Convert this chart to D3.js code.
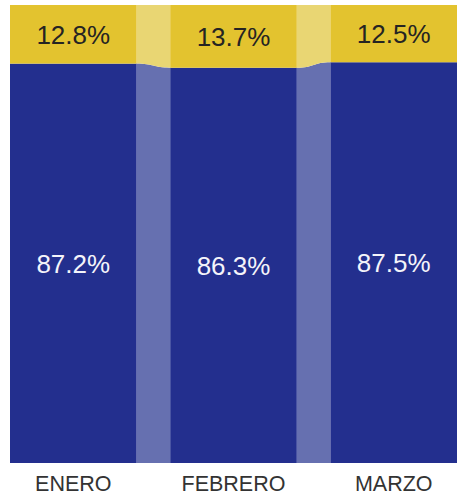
<!DOCTYPE html>
<html>
<head>
<meta charset="utf-8">
<script src="https://cdn.jsdelivr.net/npm/d3@7"></script>
<style>
  body { margin: 0; background: #fff; }
  text { font-family: "Liberation Sans", Arial, sans-serif; }
</style>
</head>
<body>
<script>
const months = ["ENERO", "FEBRERO", "MARZO"];
const bottomShare = [87.2, 86.3, 87.5];
const topShare = [12.8, 13.7, 12.5];
const seriesKeys = ["bottom", "top"];

const width = 475, height = 500;
const barColor = {bottom: "#232f8e", top: "#e3c32f"};
const ribbonColor = {bottom: "#6670b0", top: "#e9d673"};
const labelColor = {bottom: "#f4f4fa", top: "#252423"};

const rows = months.map((m, i) => ({month: m, bottom: bottomShare[i], top: topShare[i]}));
const series = d3.stack().keys(seriesKeys)(rows);

const svg = d3.select("body").append("svg")
    .attr("width", width)
    .attr("height", height);

const x = d3.scaleBand()
    .domain(months)
    .range([10, 457])
    .paddingInner(0.21)
    .paddingOuter(0);

const y = d3.scaleLinear()
    .domain([0, 100])
    .range([463, 5]);

// ribbons between neighbouring bars
const ribbon = d3.area()
    .x(d => d.x)
    .y0(d => y(d.y0))
    .y1(d => y(d.y1))
    .curve(d3.curveBumpX);

const gRibbons = svg.append("g");
series.forEach(s => {
    for (let i = 0; i < s.length - 1; i++) {
        const a = s[i], b = s[i + 1];
        const pts = [
            {x: x(months[i]) + x.bandwidth(), y0: a[0], y1: a[1]},
            {x: x(months[i + 1]), y0: b[0], y1: b[1]}
        ];
        gRibbons.append("path")
            .attr("d", ribbon(pts))
            .attr("fill", ribbonColor[s.key]);
    }
});

// bars
const gBars = svg.append("g");
series.forEach(s => {
    gBars.selectAll(null)
        .data(s)
        .enter()
        .append("rect")
        .attr("x", d => x(d.data.month))
        .attr("width", x.bandwidth())
        .attr("y", d => y(d[1]))
        .attr("height", d => y(d[0]) - y(d[1]))
        .attr("fill", barColor[s.key]);

    gBars.selectAll(null)
        .data(s)
        .enter()
        .append("text")
        .attr("x", d => x(d.data.month) + x.bandwidth() / 2)
        .attr("y", d => (y(d[0]) + y(d[1])) / 2)
        .attr("dy", "0.36em")
        .attr("text-anchor", "middle")
        .attr("font-size", 26)
        .attr("fill", labelColor[s.key])
        .text(d => d3.format(".1f")(d[1] - d[0]) + "%");
});

// category axis, no line or ticks
const xAxis = svg.append("g")
    .attr("transform", `translate(0,${y(0)})`)
    .call(d3.axisBottom(x).tickSize(0).tickPadding(13));
xAxis.select(".domain").remove();
xAxis.selectAll("text")
    .attr("font-size", 21.5)
    .attr("font-family", "Liberation Sans, Arial, sans-serif")
    .attr("fill", "#333");
</script>
</body>
</html>
